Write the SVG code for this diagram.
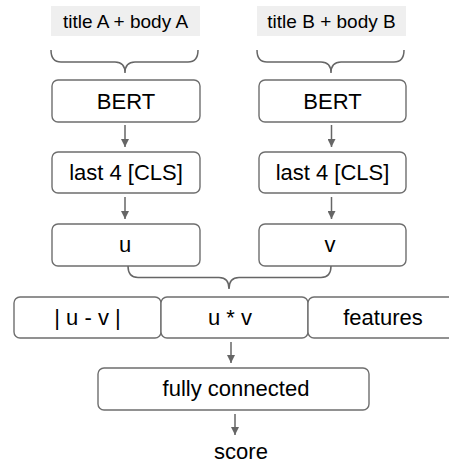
<svg xmlns="http://www.w3.org/2000/svg" width="449" height="465" viewBox="0 0 449 465">
<style>
.box{fill:#fff;stroke:#6e6e6e;stroke-width:1.4}
.title{fill:#efefef}
.t{font-family:"Liberation Sans",Arial,sans-serif;font-size:22px;fill:#000;text-anchor:middle}
.tt{font-size:19px}
.con{fill:none;stroke:#666;stroke-width:1.5}
</style>
<defs>
<marker id="ah" viewBox="0 0 10 10" refX="10" refY="5" markerWidth="11" markerHeight="8" markerUnits="userSpaceOnUse" orient="auto">
<path d="M0,0 L10,5 L0,10 Z" fill="#666"/>
</marker>
</defs>
<rect width="449" height="465" fill="#fff"/>
<g id="titleA"><rect class="title" x="51" y="6" width="149" height="30"/><text class="t tt" x="125.5" y="28">title A + body A</text></g>
<g id="titleB"><rect class="title" x="257" y="6" width="149" height="30"/><text class="t tt" x="331.5" y="28">title B + body B</text></g>
<g id="bertA"><rect class="box" x="52" y="80" width="148" height="42" rx="6"/><text class="t" x="126" y="109">BERT</text></g>
<g id="bertB"><rect class="box" x="259" y="80" width="147" height="42" rx="6"/><text class="t" x="332.5" y="109">BERT</text></g>
<g id="clsA"><rect class="box" x="52" y="152" width="148" height="41" rx="6"/><text class="t" x="126" y="180">last 4 [CLS]</text></g>
<g id="clsB"><rect class="box" x="259" y="152" width="147" height="41" rx="6"/><text class="t" x="332.5" y="180">last 4 [CLS]</text></g>
<g id="u"><rect class="box" x="52" y="224" width="148" height="42" rx="6"/><text class="t" x="125" y="252">u</text></g>
<g id="v"><rect class="box" x="259" y="224" width="147" height="42" rx="6"/><text class="t" x="330" y="252">v</text></g>
<g id="absdiff"><rect class="box" x="14" y="297" width="147" height="41" rx="6"/><text class="t" x="87.5" y="325">| u - v |</text></g>
<g id="prod"><rect class="box" x="161" y="297" width="147" height="41" rx="6"/><text class="t" x="230" y="325">u * v</text></g>
<g id="features"><rect class="box" x="308" y="297" width="148" height="41" rx="6"/><text class="t" x="383" y="325">features</text></g>
<g id="fc"><rect class="box" x="98" y="368" width="271" height="42" rx="6"/><text class="t" x="236" y="396">fully connected</text></g>
<g id="score"><text class="t" x="241" y="459">score</text></g>
<g id="connectors">
<path class="con" d="M51,50 Q51,62 61,62 L115,62 Q125,62 125,73 Q125,62 135,62 L188,62 Q198,62 198,50"/>
<path class="con" d="M257,50 Q257,62 267,62 L321,62 Q331,62 331,73 Q331,62 341,62 L394,62 Q404,62 404,50"/>
<path class="con" d="M128,266 Q128,277.5 138,277.5 L219,277.5 Q229,277.5 229,289 Q229,277.5 239,277.5 L321,277.5 Q331,277.5 331,266"/>
<line class="con" x1="125" y1="125" x2="125" y2="147" marker-end="url(#ah)"/>
<line class="con" x1="331.5" y1="125" x2="331.5" y2="147" marker-end="url(#ah)"/>
<line class="con" x1="125" y1="197" x2="125" y2="219" marker-end="url(#ah)"/>
<line class="con" x1="331.5" y1="197" x2="331.5" y2="219" marker-end="url(#ah)"/>
<line class="con" x1="231" y1="342" x2="231" y2="363" marker-end="url(#ah)"/>
<line class="con" x1="235" y1="414" x2="235" y2="435" marker-end="url(#ah)"/>
</g>
</svg>
